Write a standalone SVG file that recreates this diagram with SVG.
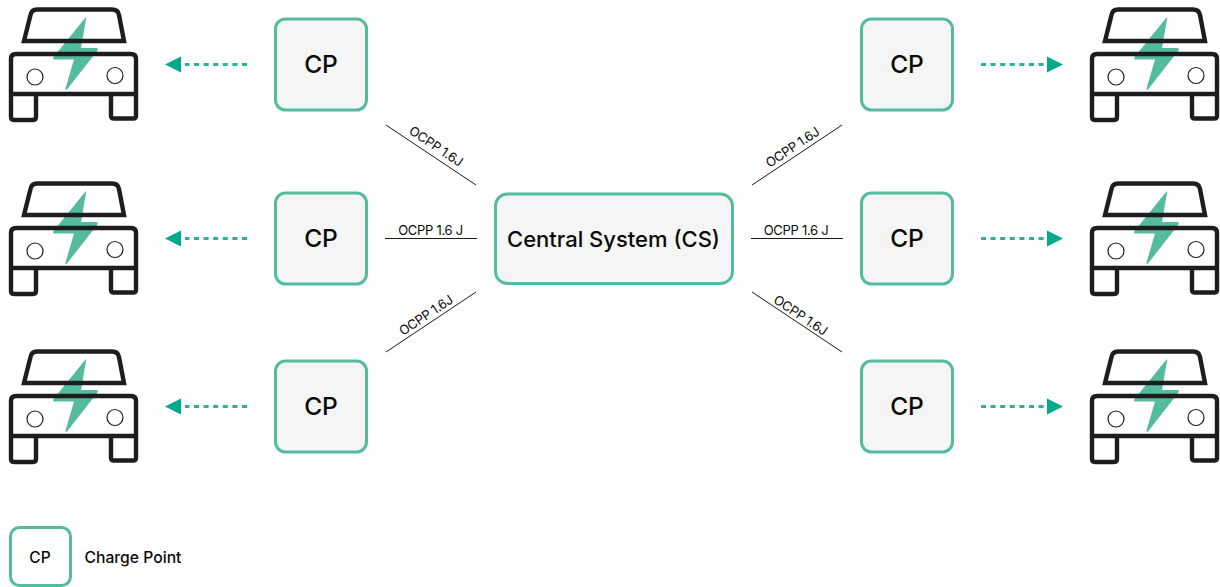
<svg xmlns="http://www.w3.org/2000/svg" xmlns:xlink="http://www.w3.org/1999/xlink" width="1220" height="587" viewBox="0 0 1220 587">
<style>
text{font-family:"Inter","Liberation Sans",sans-serif;fill:#0a0a0a}
.box{fill:#f5f5f5;stroke:#55bb9f;stroke-width:3}
.cp{font-size:24.500px;font-weight:500;text-anchor:middle}
.lb{font-size:13px;text-anchor:middle;letter-spacing:-.3px}
.ln{stroke:#1a1a1a;stroke-width:1;fill:none}
.dash{stroke:#2eb096;stroke-width:3;stroke-dasharray:5 4.600;fill:none}
.hd{fill:#00a88c}
.k{fill:none;stroke:#1d1d1b;stroke-width:4.400;stroke-linejoin:round}
.w{fill:none;stroke:#1d1d1b;stroke-width:4.400;stroke-linejoin:miter}
.h{fill:#fff;stroke:#1d1d1b;stroke-width:1.200}
</style>
<defs>
<g id="car">
<circle class="h" cx="35" cy="77" r="8"/>
<circle class="h" cx="115" cy="75.500" r="8"/>
<path fill="#55bb9f" d="M85.500 17.500Q86.500 16.500 86 19L81 48H96.500Q98.500 48.500 97.500 50.500L67 89.500Q65 90.500 65.500 88.500L74 59.500H54Q52.500 59 53.500 57Z"/>
<path class="w" d="M24 41H124L119 15Q118 9.500 112 9.500H37Q31.500 9.500 30.500 15Z"/>
<path class="k" d="M11 94V59Q11 54 16 54H131Q136 54 136 59V94ZM11 94V117Q11 120 14 120H33Q36 120 36 117V94M111 94V116Q111 118.500 114 118.500H133Q136 118.500 136 116V94"/>
</g>
</defs>
<g id="connectors">
<path class="ln" d="M386 125L476 185M385 238.500H477M476 292L386 352M752 185L842 125M751 238.500H843M752 292L842 352"/>
<g>
<path class="dash" d="M247 64.500H185M247 238.500H185M247 406.500H185M981 64.500H1048M981 238.500H1048M981 406.500H1048"/>
<path class="hd" d="M165 64.500L181 56.500V72.500ZM165 238.500L181 230.500V246.500ZM165 406.500L181 398.500V414.500ZM1063 64.500L1047 56.500V72.500ZM1063 238.500L1047 230.500V246.500ZM1063 406.500L1047 398.500V414.500Z"/>
</g>
</g>
<g id="edge-labels">
<text class="lb" transform="translate(433.500 150) rotate(33.700)">OCPP 1.6J</text>
<text class="lb" x="430.500" y="235">OCPP 1.6 J</text>
<text class="lb" transform="translate(428.500 319) rotate(-33.700)">OCPP 1.6J</text>
<text class="lb" transform="translate(795 151) rotate(-33.700)">OCPP 1.6J</text>
<text class="lb" x="796" y="235">OCPP 1.6 J</text>
<text class="lb" transform="translate(798 319) rotate(33.700)">OCPP 1.6J</text>
</g>
<g id="cs"><rect class="box" x="495.500" y="194" width="237" height="89.500" rx="12"/><text x="613.500" y="246.500" text-anchor="middle" font-size="22" font-weight="500">Central System (CS)</text></g>
<g id="cp-l1"><rect class="box" x="275.500" y="19" width="91" height="91" rx="10"/><text class="cp" x="321" y="73">CP</text></g>
<g id="cp-l2"><rect class="box" x="275.500" y="193" width="91" height="91" rx="10"/><text class="cp" x="321" y="247">CP</text></g>
<g id="cp-l3"><rect class="box" x="275.500" y="361" width="91" height="91" rx="10"/><text class="cp" x="321" y="415">CP</text></g>
<g id="cp-r1"><rect class="box" x="861.500" y="19" width="91" height="91" rx="10"/><text class="cp" x="907" y="73">CP</text></g>
<g id="cp-r2"><rect class="box" x="861.500" y="193" width="91" height="91" rx="10"/><text class="cp" x="907" y="247">CP</text></g>
<g id="cp-r3"><rect class="box" x="861.500" y="361" width="91" height="91" rx="10"/><text class="cp" x="907" y="415">CP</text></g>
<g id="car-l1"><use xlink:href="#car" href="#car"/></g>
<g id="car-l2"><use xlink:href="#car" href="#car" y="174"/></g>
<g id="car-l3"><use xlink:href="#car" href="#car" y="342"/></g>
<g id="car-r1"><use xlink:href="#car" href="#car" x="1081"/></g>
<g id="car-r2"><use xlink:href="#car" href="#car" x="1081" y="174"/></g>
<g id="car-r3"><use xlink:href="#car" href="#car" x="1081" y="342"/></g>
<g id="legend"><rect x="10.500" y="527.500" width="60" height="58" rx="9" fill="#fff" stroke="#55bb9f" stroke-width="3"/><text x="40" y="563" text-anchor="middle" font-size="15.500" font-weight="500">CP</text><text x="84.500" y="563" font-size="15.700" font-weight="500">Charge Point</text></g>
</svg>
